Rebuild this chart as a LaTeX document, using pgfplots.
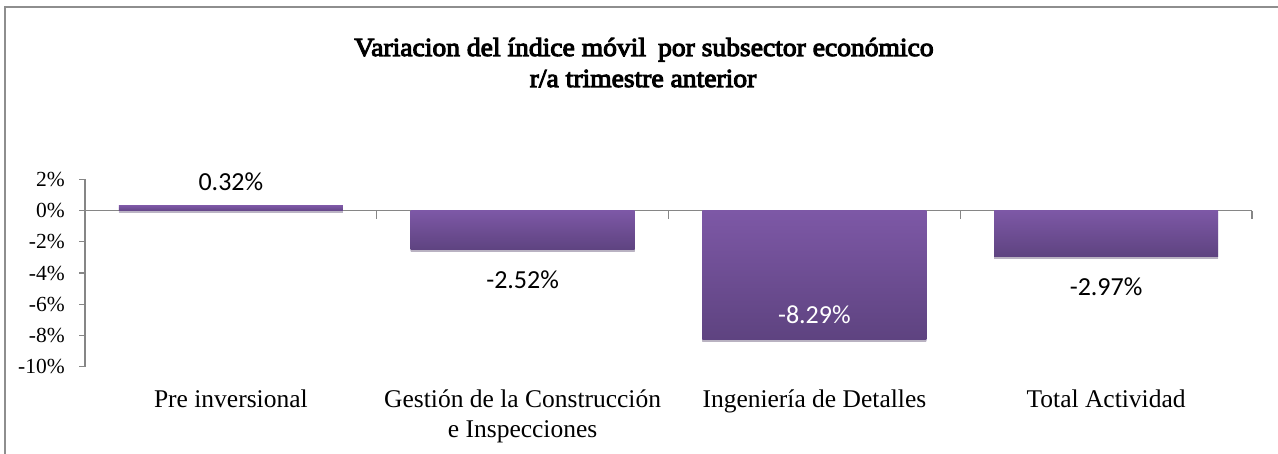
\documentclass[border=0pt]{standalone}
\usepackage{fontspec}
\setmainfont{Liberation Serif}
\newfontfamily\titlefont{Liberation Serif}[FakeBold=4, FakeStretch=1.06]
\newfontfamily\calib{Carlito}
\usepackage{pgfplots}
\pgfplotsset{compat=1.18}
\usetikzlibrary{shadows}
\definecolor{axgray}{HTML}{868686}
\definecolor{framegray}{HTML}{8E8E8E}
\definecolor{barTop}{HTML}{7D58A6}
\definecolor{barBot}{HTML}{5E4380}
\begin{document}
\begin{tikzpicture}[x=1pt,y=1pt]
\useasboundingbox (0,0) rectangle (1278,453);
\fill[white] (0,0) rectangle (1278,453);
\draw[framegray, line width=1.6pt] (4.8,-5) -- (4.8,445.8) -- (1290,445.8);
\node[anchor=base, font=\titlefont\fontsize{26}{31}\selectfont] at (644,397) {Variacion del índice móvil\hspace{0.2em} por subsector económico};
\node[anchor=base, font=\titlefont\fontsize{26}{31}\selectfont] at (643,366) {r/a trimestre anterior};
\begin{axis}[
  at={(85pt,86.3pt)}, anchor=south west,
  width=1167pt, height=187.4pt, scale only axis,
  xmin=-0.5, xmax=3.5, ymin=-10, ymax=2,
  axis x line=middle, axis y line=left,
  axis line style={-, axgray, line width=1.3pt},
  xtick={0,1,2,3},
  xticklabels={Pre inversional, Gestión de la Construcción\\e Inspecciones, Ingeniería de Detalles, Total Actividad},
  xtick style={draw=none},
  xticklabel style={font=\fontsize{25.5}{30}\selectfont, align=center, anchor=north, inner sep=0pt, yshift=-176pt, text=black},
  extra x ticks={0.5,1.5,2.5,3.5},
  extra x tick labels={},
  extra x tick style={xtick style={draw=axgray, line width=1.3pt, yshift=-4pt}, major tick length=8pt},
  ytick={-10,-8,...,2},
  ytick align=outside,
  major tick length=6pt,
  ytick style={axgray, line width=1.3pt},
  /pgf/number format/assume math mode=true,
  yticklabel={\pgfmathprintnumber{\tick}\%},
  yticklabel style={font=\fontsize{21.5}{25}\selectfont, anchor=east, inner sep=0pt, xshift=-14pt, text=black},
  clip=false,
  every node near coord/.append style={font=\calib\fontsize{26}{30}\selectfont, anchor=center, inner sep=0pt, text=black},
  nodes near coords={\pgfmathprintnumber[fixed,fixed zerofill,precision=2]{\pgfplotspointmeta}\%},
]
\addplot[ybar, bar width=224pt, bar shift=0pt, draw=none, top color=barTop, bottom color=barBot!80!barTop,
  drop shadow={shadow xshift=0pt, shadow yshift=-2pt, opacity=0.25, fill=black!60},
  nodes near coords style={yshift=24pt}] coordinates {(0,0.32)};
\addplot[ybar, bar width=224pt, bar shift=0pt, draw=none, top color=barTop, bottom color=barBot,
  drop shadow={shadow xshift=0pt, shadow yshift=-2pt, opacity=0.25, fill=black!60},
  nodes near coords style={yshift=-30pt}] coordinates {(1,-2.52)};
\addplot[ybar, bar width=224pt, bar shift=0pt, draw=none, top color=barTop, bottom color=barBot,
  drop shadow={shadow xshift=0pt, shadow yshift=-2pt, opacity=0.25, fill=black!60},
  nodes near coords style={yshift=25pt, text=white}] coordinates {(2,-8.29)};
\addplot[ybar, bar width=224pt, bar shift=0pt, draw=none, top color=barTop, bottom color=barBot,
  drop shadow={shadow xshift=0pt, shadow yshift=-2pt, opacity=0.25, fill=black!60},
  nodes near coords style={yshift=-30pt}] coordinates {(3,-2.97)};
\end{axis}
\end{tikzpicture}
\end{document}
